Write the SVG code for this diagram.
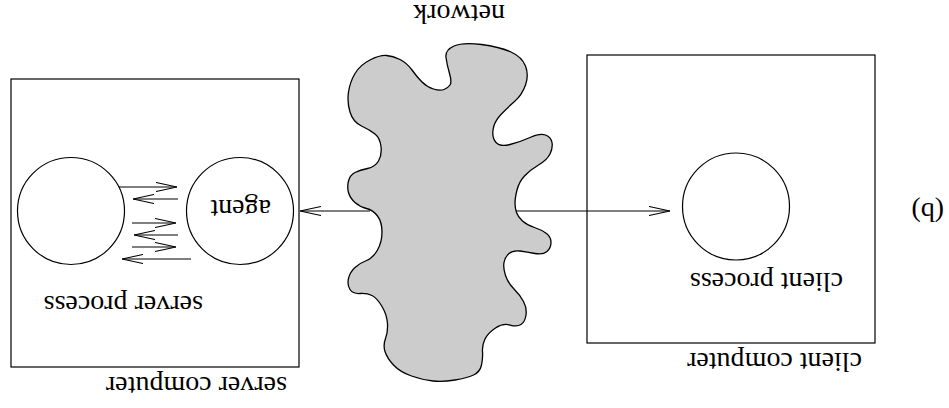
<svg xmlns="http://www.w3.org/2000/svg" width="949" height="408" viewBox="0 0 949 408">
<style>
.box{fill:none;stroke:#000;stroke-width:1.2}
.proc{fill:none;stroke:#000;stroke-width:1.2}
.conn{fill:none;stroke:#000;stroke-width:1.1}
.lbl{font-family:"Liberation Serif","Times New Roman",serif;font-size:28px;fill:#000;text-anchor:start}
</style>
<defs>
<marker id="ah" viewBox="0 0 21 10" refX="21" refY="5" markerWidth="21" markerHeight="10" markerUnits="userSpaceOnUse" orient="auto">
<path d="M0,0.5 L21,5 L0,9.5" fill="none" stroke="#000" stroke-width="1.1"/>
</marker>
</defs>
<rect width="949" height="408" fill="#fff"/>

<g id="network">
<path fill="#cccccc" stroke="#000" stroke-width="1.3" d="M 446,57.5 Q 445,50 454,46 Q 463,42 481.5,44.5 Q 500,47 511,52 Q 522,57 525.5,66 Q 529,75 525.5,85 Q 522,95 514.5,101.5 Q 507,108 500.5,115 Q 494,122 493,130 Q 492,138 496,142.5 Q 500,147 510,144.5 Q 520,142 530,137.5 Q 540,133 545.5,135 Q 551,137 552,142.5 Q 553,148 550,154 Q 547,160 538.5,165 Q 530,170 524.5,176 Q 519,182 517,190 Q 515,198 515,203 Q 515,208 516.5,212.5 Q 518,217 522.5,221 Q 527,225 534.5,227.5 Q 542,230 546.5,233.5 Q 551,237 551,242.5 Q 551,248 547,251.5 Q 543,255 535,253.5 Q 527,252 520,251 Q 513,250 509,253.5 Q 505,257 504,262.5 Q 503,268 505.5,275.5 Q 508,283 514,289 Q 520,295 523.5,301.5 Q 527,308 526,315 Q 525,322 521,324.5 Q 517,327 510,325 Q 503,323 495.5,328 Q 488,333 485,339 Q 482,345 482.5,351.5 Q 483,358 481.5,365 Q 480,372 473.5,375 Q 467,378 455,380 Q 443,382 433,381 Q 423,380 411.5,376 Q 400,372 393.5,365 Q 387,358 385,351.5 Q 383,345 385.5,338.5 Q 388,332 387.5,323.5 Q 387,315 382,306.5 Q 377,298 372,295.5 Q 367,293 360,293.5 Q 353,294 350,289.5 Q 347,285 348.5,278.5 Q 350,272 355,267.5 Q 360,263 366.5,260.5 Q 373,258 377.5,250 Q 382,242 382,232 Q 382,222 377.5,216 Q 373,210 366.5,208.5 Q 360,207 355,202.5 Q 350,198 348.5,192.5 Q 347,187 348.5,181 Q 350,175 355,172.5 Q 360,170 367.5,168.5 Q 375,167 378.5,161 Q 382,155 381,146.5 Q 380,138 375,134 Q 370,130 361.5,126 Q 353,122 350,112 Q 347,102 348.5,92 Q 350,82 355,73.5 Q 360,65 370,60 Q 380,55 386.5,55.5 Q 393,56 400,59.5 Q 407,63 412,70 Q 417,77 422,82 Q 427,87 433.5,89 Q 440,91 444,89.5 Q 448,88 450,85 Q 452,82 449.5,73.5 Q 447,65 446,57.5 Z"/>
<text class="lbl" transform="translate(505,5) rotate(180)">network</text>
</g>

<g id="server-computer">
<rect class="box" x="11" y="79" width="288" height="288"/>
<text class="lbl" transform="translate(287,376.5) rotate(180)">server computer</text>
</g>

<g id="server-process">
<circle class="proc" cx="71" cy="211" r="53.5"/>
<text class="lbl" transform="translate(203,296) rotate(180)">server process</text>
</g>

<g id="agent">
<circle class="proc" cx="240" cy="211" r="53.5"/>
<text class="lbl" transform="translate(271,200) rotate(180)">agent</text>
</g>

<g id="client-computer">
<rect class="box" x="587" y="55" width="288" height="288"/>
<text class="lbl" transform="translate(862,353) rotate(180)">client computer</text>
</g>

<g id="client-process">
<circle class="proc" cx="736" cy="206.5" r="53.5"/>
<text class="lbl" transform="translate(843,273) rotate(180)">client process</text>
</g>

<g id="caption">
<text class="lbl" transform="translate(944,203) rotate(180)">(b)</text>
</g>

<g id="connectors">
<line class="conn" x1="370" y1="211" x2="300" y2="211" marker-end="url(#ah)"/>
<line class="conn" x1="516" y1="211" x2="670" y2="211" marker-end="url(#ah)"/>
<line class="conn" x1="119" y1="187" x2="177" y2="187" marker-end="url(#ah)"/>
<line class="conn" x1="178" y1="199" x2="133" y2="199" marker-end="url(#ah)"/>
<line class="conn" x1="132" y1="223" x2="176" y2="223" marker-end="url(#ah)"/>
<line class="conn" x1="178" y1="235" x2="134" y2="235" marker-end="url(#ah)"/>
<line class="conn" x1="132" y1="247" x2="176" y2="247" marker-end="url(#ah)"/>
<line class="conn" x1="191" y1="259" x2="122" y2="259" marker-end="url(#ah)"/>
</g>
</svg>
